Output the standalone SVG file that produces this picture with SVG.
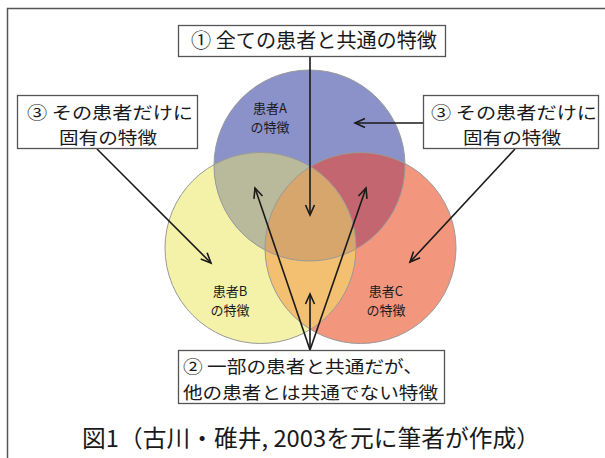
<svg xmlns="http://www.w3.org/2000/svg" width="605" height="458" viewBox="0 0 605 458">
<style>
.t{font-family:"Noto Sans CJK JP","Noto Sans",sans-serif;fill:#1a1a1a}
.box{fill:#fff;stroke:#555;stroke-width:1.3}
.lbl{font-size:17.5px}
.cl{font-size:13px;text-anchor:middle}
.edge{stroke:#1a1a1a;stroke-width:1.6;fill:none}
.ring{fill:none;stroke:#9a9a9a;stroke-width:1}
</style>
<defs>
<marker id="ah" markerUnits="userSpaceOnUse" markerWidth="14" markerHeight="12" refX="11" refY="5" orient="auto" viewBox="0 0 14 10">
<path d="M1,0.5 L11,5 L1,9.5" fill="none" stroke="#1a1a1a" stroke-width="1.6"/>
</marker>
<circle id="cA" cx="309.5" cy="165.5" r="95.5"/>
<circle id="cB" cx="260.5" cy="248" r="95.5"/>
<circle id="cC" cx="360.5" cy="248" r="95.5"/>
<clipPath id="kA"><use href="#cA"/></clipPath>
<clipPath id="kB"><use href="#cB"/></clipPath>
<clipPath id="kC"><use href="#cC"/></clipPath>
</defs>
<rect x="0" y="0" width="605" height="458" fill="#fff"/>
<rect x="7.5" y="8.5" width="640" height="500" fill="none" stroke="#555" stroke-width="1.5"/>

<g id="venn">
<use href="#cB" fill="#F4F2A9"/>
<use href="#cC" fill="#F2977D"/>
<use href="#cA" fill="#8A92C9"/>
<use href="#cA" fill="#B9BA9B" clip-path="url(#kB)"/>
<use href="#cA" fill="#C4666F" clip-path="url(#kC)"/>
<use href="#cB" fill="#F3BF70" clip-path="url(#kC)"/>
<g clip-path="url(#kC)"><use href="#cA" fill="#D6A66D" clip-path="url(#kB)"/></g>
<use href="#cA" class="ring"/>
<use href="#cB" class="ring"/>
<use href="#cC" class="ring"/>
</g>

<g id="labelA"><text class="t cl" x="270" y="113">患者A</text><text class="t cl" x="270" y="132">の特徴</text></g>
<g id="labelB"><text class="t cl" x="230" y="296">患者B</text><text class="t cl" x="230" y="315">の特徴</text></g>
<g id="labelC"><text class="t cl" x="386" y="296">患者C</text><text class="t cl" x="386" y="315">の特徴</text></g>

<g id="connectors">
<line class="edge" x1="310" y1="56" x2="310" y2="215" marker-end="url(#ah)"/>
<line class="edge" x1="423" y1="123" x2="355" y2="123" marker-end="url(#ah)"/>
<line class="edge" x1="97" y1="149" x2="211" y2="263" marker-end="url(#ah)"/>
<line class="edge" x1="515" y1="149" x2="410" y2="262" marker-end="url(#ah)"/>
<line class="edge" x1="310" y1="350" x2="255" y2="188" marker-end="url(#ah)"/>
<line class="edge" x1="310" y1="350" x2="366" y2="188" marker-end="url(#ah)"/>
<line class="edge" x1="310" y1="350" x2="310" y2="294" marker-end="url(#ah)"/>
</g>

<g id="box1">
<rect class="box" x="178.5" y="25.5" width="267" height="31"/>
<text class="t" x="191" y="48" font-size="20" textLength="246" lengthAdjust="spacingAndGlyphs">① 全ての患者と共通の特徴</text>
</g>
<g id="box3left">
<rect class="box" x="17.5" y="95.5" width="180" height="53"/>
<text class="t lbl" x="27" y="118.5" textLength="166" lengthAdjust="spacingAndGlyphs">③ その患者だけに</text>
<text class="t lbl" x="59" y="144" textLength="98" lengthAdjust="spacingAndGlyphs">固有の特徴</text>
</g>
<g id="box3right">
<rect class="box" x="423.5" y="95.5" width="175" height="53"/>
<text class="t lbl" x="431" y="118.5" textLength="166" lengthAdjust="spacingAndGlyphs">③ その患者だけに</text>
<text class="t lbl" x="463" y="144" textLength="98" lengthAdjust="spacingAndGlyphs">固有の特徴</text>
</g>
<g id="box2">
<rect class="box" x="178.5" y="350.5" width="266" height="53"/>
<text class="t lbl" x="183" y="373" textLength="240" lengthAdjust="spacingAndGlyphs">② 一部の患者と共通だが、</text>
<text class="t lbl" x="183" y="398.5" textLength="255" lengthAdjust="spacingAndGlyphs">他の患者とは共通でない特徴</text>
</g>
<text id="caption" class="t" x="82" y="447" font-size="23.5" textLength="458" lengthAdjust="spacingAndGlyphs">図1（古川・碓井, 2003を元に筆者が作成）</text>
</svg>
